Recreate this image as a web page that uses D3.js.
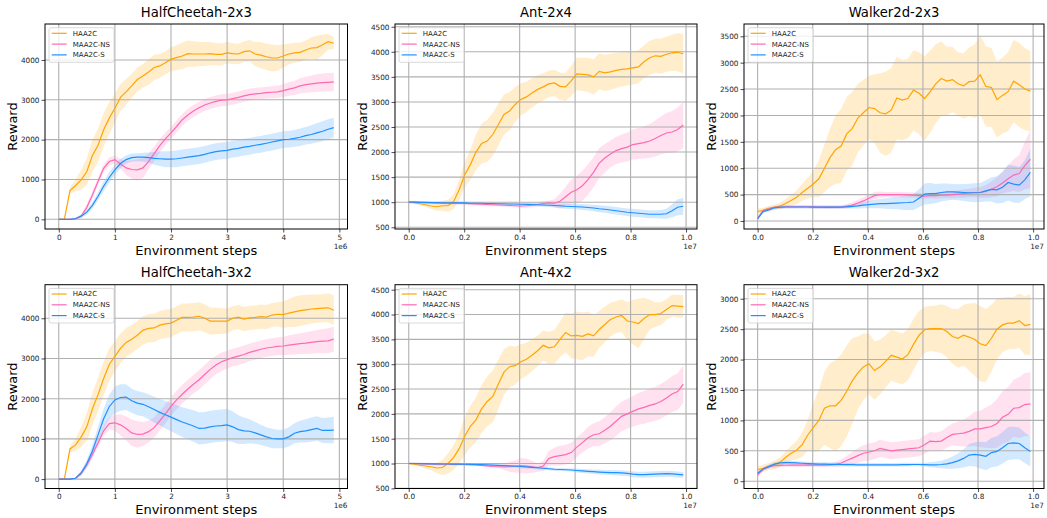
<!DOCTYPE html>
<html lang="en">
<head>
<meta charset="UTF-8">
<title>HAA2C vs MAA2C</title>
<script src="https://cdn.jsdelivr.net/npm/d3@7"></script>
<style>
  body { margin: 0; background: #fff; }
  svg { font-family: "DejaVu Sans", sans-serif; }
</style>
</head>
<body>
<svg id="chart" width="1047" height="518"></svg>
<script>
// x grids (env steps)
let hcSteps = d3.range(50).map(i => i * 1e5)
let longSteps = d3.range(50).map(i => i * 0.99e7 / 49)

let seriesNames = ['HAA2C', 'MAA2C-NS', 'MAA2C-S']
let seriesColors = ['#FFA500', '#FF69B4', '#1E90FF']

// HalfCheetah-2x3
let hc23_haa2c = [0,0,720,850,990,1200,1600,1860,2250,2540, 2790,3060,3200,3350,3510,3600,3700,3810,3850,3930, 4020,4060,4100,4160,4150,4150,4150,4160,4140,4140, 4180,4160,4150,4210,4230,4150,4120,4080,4050,4050, 4100,4150,4180,4190,4250,4300,4310,4380,4460,4420]
let hc23_haa2c_sd = [0,0,80,150,250,330,400,420,420,400, 360,340,320,300,300,300,320,320,300,290, 300,310,330,330,320,310,300,290,280,280, 270,260,260,260,270,300,330,330,340,320, 290,260,250,240,240,270,300,260,200,150]
let hc23_ns = [0,0,0,10,80,300,610,950,1280,1450, 1500,1390,1290,1250,1240,1290,1450,1650,1850,2020, 2170,2330,2500,2620,2720,2800,2870,2920,2960,2990, 3000,3030,3060,3100,3130,3150,3160,3180,3190,3200, 3230,3270,3300,3350,3380,3400,3420,3430,3440,3450]
let hc23_ns_sd = [0,0,0,20,50,80,100,100,100,100, 100,120,180,230,270,250,200,180,170,160, 150,150,150,150,150,150,150,150,150,150, 150,150,150,150,150,150,150,150,150,150, 160,170,180,190,200,210,220,230,230,230]
let hc23_s = [0,0,0,20,80,180,350,580,830,1050, 1240,1400,1500,1550,1560,1560,1550,1530,1520,1510, 1510,1520,1540,1560,1580,1600,1630,1670,1700,1720, 1730,1760,1780,1810,1830,1860,1880,1910,1940,1970, 2000,2010,2030,2060,2100,2130,2170,2210,2260,2300]
let hc23_s_sd = [0,0,0,20,40,60,80,100,120,130, 130,120,100,100,100,110,130,160,180,200, 200,210,210,210,210,210,210,210,210,210, 210,210,210,210,210,210,210,210,210,210, 210,210,210,220,220,230,240,250,250,250]

// Ant-2x4
let ant24_haa2c = [1000,990,970,950,925,910,930,930,1010,1250, 1550,1750,2000,2170,2220,2350,2550,2750,2820,2950, 3050,3100,3180,3250,3300,3360,3380,3310,3300,3420, 3560,3550,3540,3500,3610,3580,3600,3630,3650,3660, 3680,3700,3800,3880,3920,3910,3950,3980,3990,3960]
let ant24_haa2c_sd = [10,20,30,40,60,80,100,120,150,200, 250,300,350,400,420,430,420,400,380,350, 320,300,290,280,270,260,260,270,280,300, 320,330,340,350,360,360,360,350,340,330, 330,330,330,340,340,350,350,360,380,400]
let ant24_ns = [1000,1000,995,990,990,985,985,980,980,980, 975,970,965,960,955,950,945,940,935,930, 925,930,940,955,975,985,980,1020,1110,1200, 1250,1330,1450,1600,1780,1880,1960,2030,2070,2100, 2150,2170,2190,2220,2270,2330,2380,2400,2450,2540]
let ant24_ns_sd = [20,20,20,20,20,25,25,30,30,30, 30,30,30,30,30,30,30,30,30,30, 35,40,40,40,45,50,80,150,200,250, 280,300,300,300,300,280,270,270,280,290, 300,310,320,340,360,380,400,420,440,460]
let ant24_s = [1000,1000,995,995,990,990,985,985,985,985, 985,980,980,980,975,975,970,970,965,965, 960,958,955,950,945,940,935,930,920,915, 910,905,895,885,870,860,845,830,815,800, 790,780,770,760,760,760,770,830,900,920]
let ant24_s_sd = [20,20,20,20,20,20,20,20,20,20, 20,20,20,20,20,20,20,20,20,20, 25,25,30,30,35,35,40,45,50,50, 55,60,60,65,70,70,75,75,75,75, 80,80,80,80,80,85,100,130,160,170]

// Walker2d-2x3
let w23_haa2c = [180,200,240,260,280,330,390,450,540,620, 700,800,1000,1200,1350,1420,1650,1750,1950,2050, 2150,2130,2050,2030,2100,2330,2290,2320,2480,2420, 2320,2450,2600,2700,2650,2680,2600,2560,2640,2650, 2770,2550,2530,2300,2380,2450,2650,2580,2500,2460]
let w23_haa2c_sd = [50,50,50,50,60,80,100,130,160,200, 250,350,450,550,650,700,700,700,650,620, 600,650,750,800,800,780,760,750,760,780, 800,780,750,700,650,620,600,620,650,700, 750,760,750,720,720,750,780,800,780,760]
let w23_ns = [60,200,230,260,265,270,270,270,270,270, 268,265,262,262,262,265,280,300,340,380, 430,480,500,500,500,500,500,495,490,480, 470,480,480,490,490,500,510,520,530,540, 540,560,600,650,720,800,870,900,1050,1170]
let w23_ns_sd = [20,30,30,30,30,30,30,30,30,30, 30,30,30,30,30,30,40,50,60,70, 70,70,60,50,50,50,50,50,50,50, 50,50,60,60,60,70,70,80,80,90, 100,120,150,180,200,250,300,350,450,550]
let w23_s = [40,180,210,250,262,265,265,265,265,265, 262,262,262,262,262,262,268,275,285,300, 310,320,330,330,335,340,345,350,360,430, 510,520,520,540,550,550,545,540,535,535, 540,570,600,590,640,730,700,680,780,920]
let w23_s_sd = [20,30,30,30,30,30,30,30,30,30, 30,30,30,30,30,30,30,40,50,60, 70,80,90,100,110,120,130,140,150,170, 200,200,180,170,160,150,150,160,170,180, 180,200,230,260,300,340,350,340,370,450]

// HalfCheetah-3x2
let hc32_haa2c = [0,0,750,850,1050,1300,1750,2100,2500,2850, 3050,3250,3400,3480,3580,3700,3750,3760,3830,3860, 3880,3950,4020,4020,4030,4050,4000,3930,3930,3930, 3930,4000,4030,3980,4010,4020,4040,4030,4080,4100, 4090,4130,4160,4190,4210,4230,4240,4250,4260,4200]
let hc32_haa2c_sd = [0,0,80,150,250,350,400,420,420,400, 380,370,360,350,350,350,350,350,350,350, 350,350,350,350,350,350,350,340,330,320, 310,300,300,300,300,300,300,300,300,300, 330,350,380,380,370,360,350,350,360,370]
let hc32_ns = [0,0,0,20,150,350,620,900,1200,1380, 1400,1350,1260,1150,1110,1120,1180,1280,1450,1620, 1810,1970,2110,2240,2360,2470,2600,2730,2840,2920, 2970,3020,3060,3100,3150,3190,3230,3260,3280,3300, 3310,3330,3350,3370,3380,3400,3420,3430,3440,3480]
let hc32_ns_sd = [0,0,0,20,60,80,100,100,120,150, 200,260,300,330,330,300,270,250,240,230, 230,230,230,230,230,240,240,240,230,230, 220,220,220,220,220,220,220,220,220,220, 230,240,250,260,270,280,290,300,310,310]
let hc32_s = [0,0,0,20,150,380,700,1100,1500,1800, 1970,2030,2040,1950,1890,1860,1800,1730,1660,1600, 1540,1480,1420,1370,1320,1260,1270,1300,1320,1330, 1350,1300,1230,1200,1190,1150,1100,1050,1010,1000, 1000,1050,1140,1180,1200,1230,1260,1210,1210,1220]
let hc32_s_sd = [0,0,0,20,60,100,150,200,250,300, 330,330,320,300,300,300,310,320,330,340, 350,360,370,380,390,400,400,400,400,400, 400,380,360,330,300,270,250,240,240,230, 230,240,250,270,290,300,300,310,320,330]

// Ant-4x2
let ant42_haa2c = [1000,985,965,950,935,910,920,1000,1120,1300, 1550,1750,1880,2100,2250,2350,2600,2840,2950,2970, 3050,3100,3180,3270,3380,3330,3350,3500,3640,3570, 3580,3560,3610,3570,3700,3800,3900,3950,3980,3870, 3850,3820,3920,4000,4000,4020,4100,4180,4170,4160]
let ant42_haa2c_sd = [10,20,30,50,70,100,150,200,250,300, 380,420,450,480,500,520,500,460,420,380, 350,330,320,310,300,320,340,360,400,450, 480,480,450,420,370,360,340,320,330,380, 450,500,420,300,250,230,210,220,230,230]
let ant42_ns = [1000,1000,995,990,990,985,985,985,980,980, 980,975,970,960,950,940,935,930,935,940, 960,950,935,915,950,1100,1140,1160,1180,1220, 1330,1420,1520,1580,1600,1670,1750,1850,1950,2000, 2050,2100,2130,2170,2200,2250,2320,2400,2450,2600]
let ant42_ns_sd = [20,20,20,20,20,20,20,20,20,20, 20,20,20,20,20,20,20,60,100,120, 150,150,120,80,100,150,180,200,200,200, 200,200,220,230,250,260,280,300,300,300, 310,320,330,340,340,350,350,360,370,380]
let ant42_s = [1000,1000,998,996,994,992,990,990,988,986, 985,982,980,976,972,968,963,958,952,946, 940,932,924,915,905,895,885,880,875,870, 860,850,842,835,828,822,818,815,810,800, 785,775,775,780,785,790,795,790,780,770]
let ant42_s_sd = [20,20,20,20,20,20,20,20,20,20, 20,20,20,20,20,20,20,20,20,20, 30,30,30,30,30,30,30,30,30,30, 40,40,45,45,50,50,50,55,55,55, 60,60,60,60,60,60,60,60,60,60]

// Walker2d-3x2
let w32_haa2c = [190,210,240,270,310,390,460,510,600,760, 880,1000,1200,1240,1240,1330,1480,1650,1780,1880, 1930,1820,1880,1970,2070,2040,2010,2080,2250,2400, 2490,2510,2510,2510,2460,2380,2350,2400,2370,2330, 2260,2230,2350,2500,2570,2600,2600,2640,2560,2580]
let w32_haa2c_sd = [60,60,60,70,80,100,120,150,200,250, 400,500,600,700,750,750,750,700,600,550, 500,480,450,430,420,420,420,420,420,400, 380,370,380,400,420,450,480,500,550,600, 620,600,550,500,450,430,430,450,480,500]
let w32_ns = [100,200,240,255,260,262,265,265,265,265, 265,265,265,268,275,300,340,380,420,460, 480,500,540,520,500,510,520,530,540,550, 600,660,650,660,720,770,780,790,820,860, 860,880,900,950,1050,1100,1200,1210,1260,1270]
let w32_ns_sd = [30,30,30,30,30,30,30,30,30,30, 30,30,30,30,40,60,80,100,120,130, 140,140,140,140,140,140,140,140,140,140, 150,150,150,160,170,180,200,220,250,280, 300,330,360,400,430,450,470,500,520,520]
let w32_s = [130,200,240,280,300,305,305,300,295,290, 285,282,280,278,276,275,273,272,270,270, 270,270,270,270,270,270,272,274,275,275, 272,270,270,275,285,305,335,375,430,440, 430,410,470,490,550,620,630,620,550,490]
let w32_s_sd = [30,30,30,30,30,30,30,30,30,30, 30,30,30,30,30,30,30,30,30,30, 30,30,30,30,30,30,30,30,30,30, 30,40,50,60,80,100,120,150,180,200, 220,230,240,250,260,270,270,260,250,250]

let hcTicks = [0, 1e6, 2e6, 3e6, 4e6, 5e6]
let longTicks = [0, 2e6, 4e6, 6e6, 8e6, 1e7]

let panels = [
  { title: 'HalfCheetah-2x3', steps: hcSteps, xTicks: hcTicks, xDiv: 1e6, xFmt: d3.format('d'), exp: '1e6',
    yDomain: [-243, 4903], yTicks: [0, 1000, 2000, 3000, 4000],
    series: [[hc23_haa2c, hc23_haa2c_sd], [hc23_ns, hc23_ns_sd], [hc23_s, hc23_s_sd]] },
  { title: 'Ant-2x4', steps: longSteps, xTicks: longTicks, xDiv: 1e7, xFmt: d3.format('.1f'), exp: '1e7',
    yDomain: [466, 4554], yTicks: d3.range(500, 4501, 500),
    series: [[ant24_haa2c, ant24_haa2c_sd], [ant24_ns, ant24_ns_sd], [ant24_s, ant24_s_sd]] },
  { title: 'Walker2d-2x3', steps: longSteps, xTicks: longTicks, xDiv: 1e7, xFmt: d3.format('.1f'), exp: '1e7',
    yDomain: [-152, 3733], yTicks: d3.range(0, 3501, 500),
    series: [[w23_haa2c, w23_haa2c_sd], [w23_ns, w23_ns_sd], [w23_s, w23_s_sd]] },
  { title: 'HalfCheetah-3x2', steps: hcSteps, xTicks: hcTicks, xDiv: 1e6, xFmt: d3.format('d'), exp: '1e6',
    yDomain: [-234, 4835], yTicks: [0, 1000, 2000, 3000, 4000],
    series: [[hc32_haa2c, hc32_haa2c_sd], [hc32_ns, hc32_ns_sd], [hc32_s, hc32_s_sd]] },
  { title: 'Ant-4x2', steps: longSteps, xTicks: longTicks, xDiv: 1e7, xFmt: d3.format('.1f'), exp: '1e7',
    yDomain: [497, 4601], yTicks: d3.range(500, 4501, 500),
    series: [[ant42_haa2c, ant42_haa2c_sd], [ant42_ns, ant42_ns_sd], [ant42_s, ant42_s_sd]] },
  { title: 'Walker2d-3x2', steps: longSteps, xTicks: longTicks, xDiv: 1e7, xFmt: d3.format('.1f'), exp: '1e7',
    yDomain: [-120, 3231], yTicks: d3.range(0, 3001, 500),
    series: [[w32_haa2c, w32_haa2c_sd], [w32_ns, w32_ns_sd], [w32_s, w32_s_sd]] }
]

let cols = [[45, 347.5], [395, 697], [744, 1044]]
let rows = [[24, 229], [284.7, 488.5]]

let svg = d3.select('#chart')
svg.append('rect').attr('width', 1047).attr('height', 518).attr('fill', '#fff')

panels.forEach((p, idx) => {
  let [left, right] = cols[idx % 3]
  let [top, bottom] = rows[Math.floor(idx / 3)]
  let w = right - left, h = bottom - top
  let xMax = p.steps[p.steps.length - 1]
  let xMargin = xMax * 0.05

  let x = d3.scaleLinear().domain([-xMargin, xMax + xMargin]).range([0, w])
  let y = d3.scaleLinear().domain(p.yDomain).range([h, 0])

  let g = svg.append('g').attr('transform', `translate(${left},${top})`)

  g.append('defs').append('clipPath').attr('id', 'clip' + idx)
    .append('rect').attr('width', w).attr('height', h)

  let plot = g.append('g').attr('clip-path', `url(#clip${idx})`)

  // bands
  p.series.forEach(([mean, sd], si) => {
    let area = d3.area()
      .x((d, i) => x(p.steps[i]))
      .y0((d, i) => y(d - sd[i]))
      .y1((d, i) => y(d + sd[i]))
    plot.append('path').datum(mean)
      .attr('d', area)
      .attr('fill', seriesColors[si])
      .attr('fill-opacity', 0.2)
  })

  // grid
  plot.selectAll('.gx').data(p.xTicks).enter().append('line')
    .attr('x1', d => x(d)).attr('x2', d => x(d)).attr('y1', 0).attr('y2', h)
    .attr('stroke', '#b0b0b0').attr('stroke-width', 1.1)
  plot.selectAll('.gy').data(p.yTicks).enter().append('line')
    .attr('y1', d => y(d)).attr('y2', d => y(d)).attr('x1', 0).attr('x2', w)
    .attr('stroke', '#b0b0b0').attr('stroke-width', 1.1)

  // mean lines
  p.series.forEach(([mean], si) => {
    let line = d3.line().x((d, i) => x(p.steps[i])).y(d => y(d))
    plot.append('path').datum(mean)
      .attr('d', line)
      .attr('fill', 'none')
      .attr('stroke', seriesColors[si])
      .attr('stroke-width', 1.2)
  })

  // axes
  let xAxis = d3.axisBottom(x).tickValues(p.xTicks).tickSize(3.5).tickPadding(2)
    .tickFormat(d => p.xFmt(d / p.xDiv))
  let yAxis = d3.axisLeft(y).tickValues(p.yTicks).tickSize(3.5).tickPadding(2)
    .tickFormat(d3.format('d'))
  let gx = g.append('g').attr('transform', `translate(0,${h})`).call(xAxis)
  let gy = g.append('g').call(yAxis)
  ;[gx, gy].forEach(a => {
    a.select('.domain').remove()
    a.selectAll('text').attr('font-size', 7.3).attr('font-family', 'DejaVu Sans').attr('fill', '#222')
    a.selectAll('line').attr('stroke', '#222').attr('stroke-width', 0.8)
  })

  // frame
  g.append('rect').attr('width', w).attr('height', h)
    .attr('fill', 'none').attr('stroke', '#000').attr('stroke-width', 1)

  // exponent
  g.append('text').attr('x', w).attr('y', h + 20).attr('text-anchor', 'end')
    .attr('font-size', 7.3).attr('fill', '#222').text(p.exp)

  // titles and labels
  g.append('text').attr('x', w / 2).attr('y', -7.5).attr('text-anchor', 'middle')
    .attr('font-size', 13.2).attr('fill', '#000').text(p.title)
  g.append('text').attr('x', w / 2).attr('y', h + 25.5).attr('text-anchor', 'middle')
    .attr('font-size', 13).attr('fill', '#000').text('Environment steps')
  g.append('text').attr('transform', `translate(-28,${h / 2}) rotate(-90)`)
    .attr('text-anchor', 'middle').attr('font-size', 13).attr('fill', '#000').text('Reward')

  // legend
  let lg = g.append('g').attr('transform', 'translate(4,3.7)')
  lg.append('rect').attr('width', 65).attr('height', 34.6).attr('rx', 2)
    .attr('fill', '#fff').attr('fill-opacity', 0.8).attr('stroke', '#d0d0d0').attr('stroke-width', 0.8)
  seriesNames.forEach((name, si) => {
    let ly = 5.6 + si * 10.8
    lg.append('line').attr('x1', 2.7).attr('x2', 17.7).attr('y1', ly).attr('y2', ly)
      .attr('stroke', seriesColors[si]).attr('stroke-width', 1.2)
    lg.append('text').attr('x', 23.7).attr('y', ly + 2.5)
      .attr('font-size', 7).attr('fill', '#222').text(name)
  })
})
</script>
</body>
</html>
